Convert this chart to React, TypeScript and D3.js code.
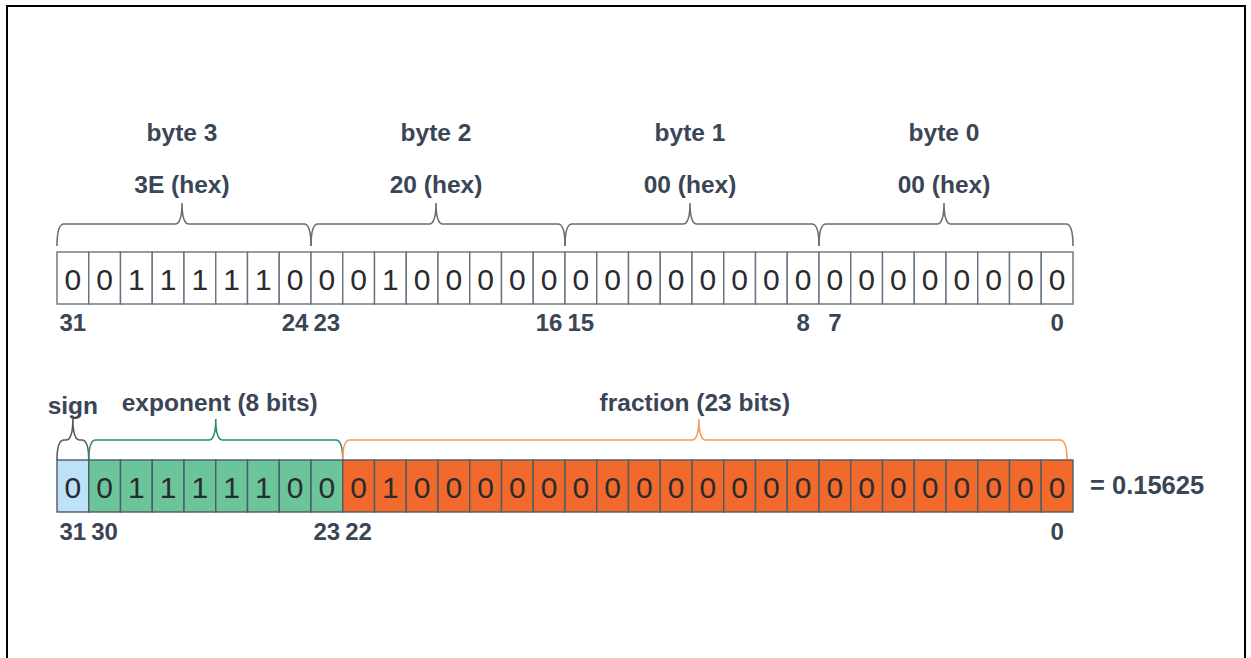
import React, { useEffect, useRef } from "react";
import * as d3 from "d3";

// bit values of 0x3E200000, bit 31 first
const bits = [
  0, 0, 1, 1, 1, 1, 1, 0,
  0, 0, 1, 0, 0, 0, 0, 0,
  0, 0, 0, 0, 0, 0, 0, 0,
  0, 0, 0, 0, 0, 0, 0, 0,
];
const byteNames = ["byte 3", "byte 2", "byte 1", "byte 0"];
const hexValues = ["3E (hex)", "20 (hex)", "00 (hex)", "00 (hex)"];
const byteIndexLabels = [31, 24, 23, 16, 15, 8, 7, 0];
const fieldNames = ["sign", "exponent (8 bits)", "fraction (23 bits)"];
const fieldHigh = [31, 30, 22];
const fieldLow = [31, 23, 0];
const fieldIndexLabels = [31, 30, 23, 22, 0];
const resultText = "= 0.15625";

const W = 1251;
const H = 658;
const TEXT = "#3a4556";
const FONT = "'Liberation Sans', Arial, sans-serif";
const LABEL_SIZE = 24.5;

const fieldFill = ["#bde1f6", "#6cc49b", "#f16a2b"];
const fieldBrace = ["#555a60", "#2f8a63", "#f49a62"];

const App = () => {
  const svgRef = useRef<SVGSVGElement>(null);

  useEffect(() => {
    const svg = d3.select(svgRef.current);
    svg.selectAll("*").remove();

    const x = d3.scaleLinear().domain([32, 0]).range([57, 1073]);
    const bitIdx = d3.range(31, -1, -1);
    const cw = x(0) - x(1);

    // brace: ends at yb, flat at yh, tip at yt
    const brace = (x0: number, x1: number, yb: number, yh: number, yt: number, m = (x0 + x1) / 2) => {
      const r = Math.min(7, (x1 - x0) / 4);
      const p = d3.path();
      p.moveTo(x0, yb);
      p.quadraticCurveTo(x0, yh, x0 + r, yh);
      p.lineTo(m - r, yh);
      p.quadraticCurveTo(m, yh, m, yt);
      p.quadraticCurveTo(m, yh, m + r, yh);
      p.lineTo(x1 - r, yh);
      p.quadraticCurveTo(x1, yh, x1, yb);
      return p.toString();
    };

    // frame
    svg.append("path")
      .attr("d", `M7,${H + 5} V6 H1245 V${H + 5}`)
      .attr("fill", "none")
      .attr("stroke", "#000")
      .attr("stroke-width", 2);

    // ---- top row: bytes ----
    const top = svg.append("g");
    const topY = 252, topH = 52;

    byteNames.forEach((name, i) => {
      const hi = 31 - i * 8;
      const x0 = x(hi + 1), x1 = x(hi - 7);
      const m = (x0 + x1) / 2 - 2;
      top.append("path")
        .attr("d", brace(x0, x1, 246, 224, 203, m))
        .attr("fill", "none")
        .attr("stroke", "#6a6d72")
        .attr("stroke-width", 1.6);
      top.append("text")
        .attr("x", m).attr("y", 132).attr("dy", "0.35em")
        .attr("text-anchor", "middle")
        .attr("font-weight", "bold").attr("font-size", LABEL_SIZE)
        .attr("fill", TEXT)
        .text(name);
      top.append("text")
        .attr("x", m).attr("y", 184).attr("dy", "0.35em")
        .attr("text-anchor", "middle")
        .attr("font-weight", "bold").attr("font-size", LABEL_SIZE)
        .attr("fill", TEXT)
        .text(hexValues[i]);
    });

    top.selectAll("rect.cell")
      .data(bitIdx)
      .join("rect")
      .attr("class", "cell")
      .attr("x", d => x(d + 1))
      .attr("y", topY)
      .attr("width", cw)
      .attr("height", topH)
      .attr("fill", "#fff")
      .attr("stroke", "#66727e")
      .attr("stroke-width", 1.4);

    top.selectAll("text.bit")
      .data(bitIdx)
      .join("text")
      .attr("class", "bit")
      .attr("x", d => x(d + 0.5))
      .attr("y", topY + topH / 2 + 1)
      .attr("dy", "0.35em")
      .attr("text-anchor", "middle")
      .attr("font-size", 30)
      .attr("fill", "#2a2a30")
      .text(d => bits[31 - d]);

    top.selectAll("text.idx")
      .data(byteIndexLabels)
      .join("text")
      .attr("class", "idx")
      .attr("x", d => x(d + 0.5))
      .attr("y", 323)
      .attr("dy", "0.35em")
      .attr("text-anchor", "middle")
      .attr("font-weight", "bold").attr("font-size", 24)
      .attr("fill", TEXT)
      .text(d => d);

    // ---- bottom row: IEEE 754 fields ----
    const bot = svg.append("g");
    const botY = 460, botH = 52;
    const fieldOf = (b: number) => fieldHigh.findIndex((h, i) => b <= h && b >= fieldLow[i]);

    fieldNames.forEach((name, i) => {
      const x0 = x(fieldHigh[i] + 1), x1 = x(fieldLow[i]) - (i === 2 ? 6 : 0);
      const m = (x0 + x1) / 2 - (i === 2 ? 6 : 0);
      bot.append("path")
        .attr("d", brace(x0, x1, 460, 440, 419, m))
        .attr("fill", "none")
        .attr("stroke", fieldBrace[i])
        .attr("stroke-width", 1.6);
      bot.append("text")
        .attr("x", i === 2 ? m - 4 : m + (i === 1 ? 4 : 0))
        .attr("y", i === 0 ? 405 : 402).attr("dy", "0.35em")
        .attr("text-anchor", "middle")
        .attr("font-weight", "bold").attr("font-size", LABEL_SIZE)
        .attr("fill", TEXT)
        .text(name);
    });

    bot.selectAll("rect.cell")
      .data(bitIdx)
      .join("rect")
      .attr("class", "cell")
      .attr("x", d => x(d + 1))
      .attr("y", botY)
      .attr("width", cw)
      .attr("height", botH)
      .attr("fill", d => fieldFill[fieldOf(d)])
      .attr("stroke", "#4f5b66")
      .attr("stroke-width", 1.4);

    bot.selectAll("text.bit")
      .data(bitIdx)
      .join("text")
      .attr("class", "bit")
      .attr("x", d => x(d + 0.5))
      .attr("y", botY + botH / 2 + 1)
      .attr("dy", "0.35em")
      .attr("text-anchor", "middle")
      .attr("font-size", 30)
      .attr("fill", "#2a2a30")
      .text(d => bits[31 - d]);

    bot.selectAll("text.idx")
      .data(fieldIndexLabels)
      .join("text")
      .attr("class", "idx")
      .attr("x", d => x(d + 0.5))
      .attr("y", 532)
      .attr("dy", "0.35em")
      .attr("text-anchor", "middle")
      .attr("font-weight", "bold").attr("font-size", 24)
      .attr("fill", TEXT)
      .text(d => d);

    bot.append("text")
      .attr("x", 1090).attr("y", 485).attr("dy", "0.35em")
      .attr("font-weight", "bold").attr("font-size", 25.5)
      .attr("fill", TEXT)
      .text(resultText);
  }, []);

  return (
    <svg
      ref={svgRef}
      width={W}
      height={H}
      style={{ position: "absolute", left: 0, top: 0, fontFamily: FONT, background: "#fff" }}
    />
  );
};

export default App;
